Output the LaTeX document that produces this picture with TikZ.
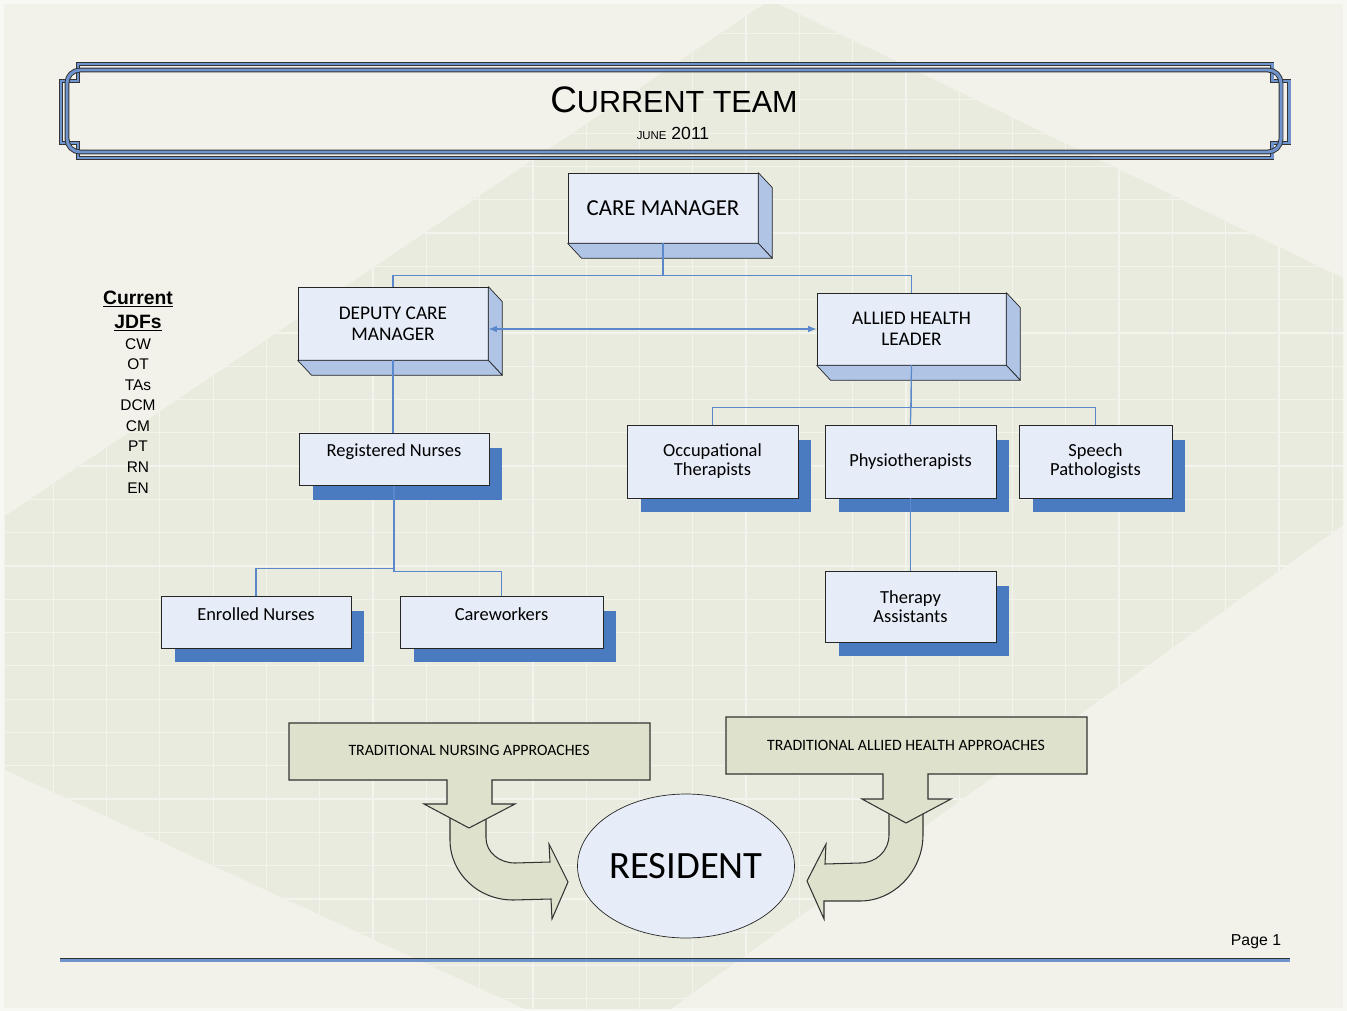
\documentclass[tikz,border=0pt]{standalone}
\usepackage{fontspec}
\setmainfont{Liberation Sans}
\newfontfamily\handfont{Carlito}
\usetikzlibrary{shapes.geometric, arrows, shadows}

\definecolor{pagewhite}{HTML}{F7F7F3}
\definecolor{pagelight}{HTML}{F2F2EA}
\definecolor{pageband}{HTML}{EAEBDF}
\definecolor{frameblue}{HTML}{6F94CD}
\definecolor{faceblue}{HTML}{E6ECF8}
\definecolor{sideblue}{HTML}{B0C4E6}
\definecolor{shadowblue}{HTML}{4A7AC0}
\definecolor{linkblue}{HTML}{5B88CA}
\definecolor{approachgreen}{HTML}{DEE2CC}

\tikzstyle{lead} = [rectangle, minimum width=3.8cm, minimum height=1.44cm, inner sep=0pt, align=center, draw=black!85, fill=faceblue, font=\handfont\fontsize{11}{12}\selectfont]
\tikzstyle{member} = [rectangle, minimum width=3.8cm, minimum height=1.04cm, inner sep=0pt, align=center, draw=black!85, fill=faceblue, font=\handfont\fontsize{10.5}{10.8}\selectfont, drop shadow={shadow xshift=0.27cm, shadow yshift=-0.29cm, opacity=1, fill=shadowblue}]
\tikzstyle{boxside} = [fill=sideblue, draw=black!85, line join=round]
\tikzstyle{link} = [draw=linkblue, line width=0.7pt]
\tikzstyle{arrow} = [linkblue, line width=0.7pt, <->, >=latex]
\tikzstyle{approach} = [fill=approachgreen, draw=black!80, line width=0.6pt]
\tikzstyle{strip} = [draw=black!80, line width=0.55pt, double=frameblue, double distance=1.7pt]

\newcommand{\sidefaces}[1]{%
  \draw [boxside] (#1.north east) -- ++(14,15) -- ([shift={(14,15)}]#1.south east) -- (#1.south east) -- cycle;
  \draw [boxside] (#1.south west) -- (#1.south east) -- ([shift={(14,15)}]#1.south east) -- ([shift={(14,15)}]#1.south west) -- cycle;}

\begin{document}
\begin{tikzpicture}[x=0.02cm, y=-0.02cm]
	\useasboundingbox (0,0) rectangle (1347,1011);
	% Background
	\fill [pagewhite] (0,0) rectangle (1347,1011);
	\fill [pagelight] (4,4) rectangle (1343,1008);
	\begin{scope}
		\clip (4,4) rectangle (1343,1008);
		\clip (770,0) -- (1347,280) -- (1347,522) -- (614,1050) -- (5,770) -- (5,516) -- cycle;
		\fill [pageband] (0,0) rectangle (1347,1011);
		\draw [white, opacity=0.45, line width=0.7pt] (0,0) grid [xstep=1.066cm, ystep=0.666cm] (1347,1011);
	\end{scope}

	% Title banner
	\draw [strip] (78,64) -- (1272,64) -- (1272,81) -- (1289,81) -- (1289,143) -- (1272,143) -- (1272,158) -- (78,158) -- (78,143) -- (61,143) -- (61,81) -- (78,81) -- cycle;
	\draw [strip, rounded corners=0.26cm] (67,70) rectangle (1281,152);
	\node (title) [anchor=base] at (674,112) {{\fontsize{21}{21}\selectfont C}{\fontsize{17.4}{17.4}\selectfont URRENT TEAM}};
	\node (date) [anchor=base] at (673,139) {{\fontsize{6.5}{6.5}\selectfont JUNE} {\fontsize{10}{10}\selectfont 2011}};

	% Current JDFs
	\node (jdfhead) [anchor=base, align=center, font=\bfseries\fontsize{11}{13.6}\selectfont] at (138,328) {\underline{Current}\\\underline{JDFs}};
	\node (jdflist) [anchor=base, align=center, font=\fontsize{8.8}{11.7}\selectfont] at (138,493) {CW\\OT\\TAs\\DCM\\CM\\PT\\RN\\EN};

	% Team
	\node (cm) [lead, minimum height=1.4cm, font=\handfont\fontsize{13}{14}\selectfont] at (663,208) {CARE MANAGER};
	\node (dcm) [lead, minimum height=1.46cm] at (393,323.5) {DEPUTY CARE\\MANAGER};
	\node (ahl) [lead, minimum width=3.78cm] at (911.5,329) {ALLIED HEALTH\\LEADER};
	\sidefaces{cm}
	\sidefaces{dcm}
	\sidefaces{ahl}
	\node (rn) [member, text depth=0.37cm] at (394,459.5) {Registered Nurses};
	\node (en) [member, text depth=0.32cm] at (256,622) {Enrolled Nurses};
	\node (cw) [member, minimum width=4.06cm, text depth=0.32cm] at (501.5,622) {Careworkers};
	\node (ot) [member, minimum width=3.42cm, minimum height=1.46cm] at (712.5,461.5) {Occupational\\Therapists};
	\node (pt) [member, minimum width=3.42cm, minimum height=1.46cm] at (910.5,461.5) {Physiotherapists};
	\node (sp) [member, minimum width=3.06cm, minimum height=1.46cm] at (1095.5,461.5) {Speech\\Pathologists};
	\node (ta) [member, minimum width=3.42cm, minimum height=1.42cm] at (910.5,606.5) {Therapy\\Assistants};

	% Reporting lines
	\draw [link] (cm.south) -- ++(0,32) -| (dcm.north);
	\draw [link] (cm.south) -- ++(0,32) -| (ahl.north);
	\draw [link] (dcm.south) -- (dcm.south |- rn.north);
	\draw [link] (rn.south) -- ++(0,83) -| (en.north);
	\draw [link] (rn.south) -- ++(0,86) -| (cw.north);
	\draw [link] (ahl.south) -- ++(0,42) -| (ot.north);
	\draw [link] (ahl.south) -- ++(0,42) -| (sp.north);
	\draw [link] (ahl.south) -- (pt.north);
	\draw [link] (pt.south) -- (ta.north);
	\draw [arrow] (dcm.east |- ahl.west) -- (ahl.west);

	% Approaches to the resident
	\draw [approach] (450,813) -- (450,840) .. controls (450,873) and (478,900) .. (513,900) -- (551,899) -- (552,919) -- (568,882) -- (549,844) -- (550,862) -- (515,863) .. controls (499,863) and (486,852) .. (486,838) -- (486,813) -- cycle;
	\draw [approach] (289,723) -- (650,723) -- (650,780) -- (492,780) -- (492,804) -- (515,804) -- (469,828) -- (424,804) -- (447,804) -- (447,780) -- (289,780) -- cycle;
	\node (nursing) [font=\handfont\fontsize{9}{9}\selectfont] at (469,750) {TRADITIONAL NURSING APPROACHES};
	\draw [approach] (889,813) -- (889,835) .. controls (889,851) and (876,863) .. (860,863) -- (825,864) -- (826,844) -- (807,881) -- (824,919) -- (824,901) -- (860,901) .. controls (895,901) and (923,870) .. (923,835) -- (923,813) -- cycle;
	\draw [approach] (726,717) -- (1087,717) -- (1087,774) -- (928,774) -- (928,799) -- (951,799) -- (906,823) -- (862,799) -- (883,799) -- (883,774) -- (726,774) -- cycle;
	\node (allied) [font=\handfont\fontsize{9}{9}\selectfont] at (906,745) {TRADITIONAL ALLIED HEALTH APPROACHES};
	\node (resident) [ellipse, inner sep=0pt, draw=black!85, fill=faceblue, minimum width=4.32cm, minimum height=2.88cm, font=\handfont\fontsize{22}{22}\selectfont] at (686,866) {RESIDENT};

	% Footer
	\draw [strip] (60,960) -- (1290,960);
	\node (page) [anchor=base, font=\fontsize{9}{9}\selectfont] at (1256,945) {Page 1};
\end{tikzpicture}
\end{document}
